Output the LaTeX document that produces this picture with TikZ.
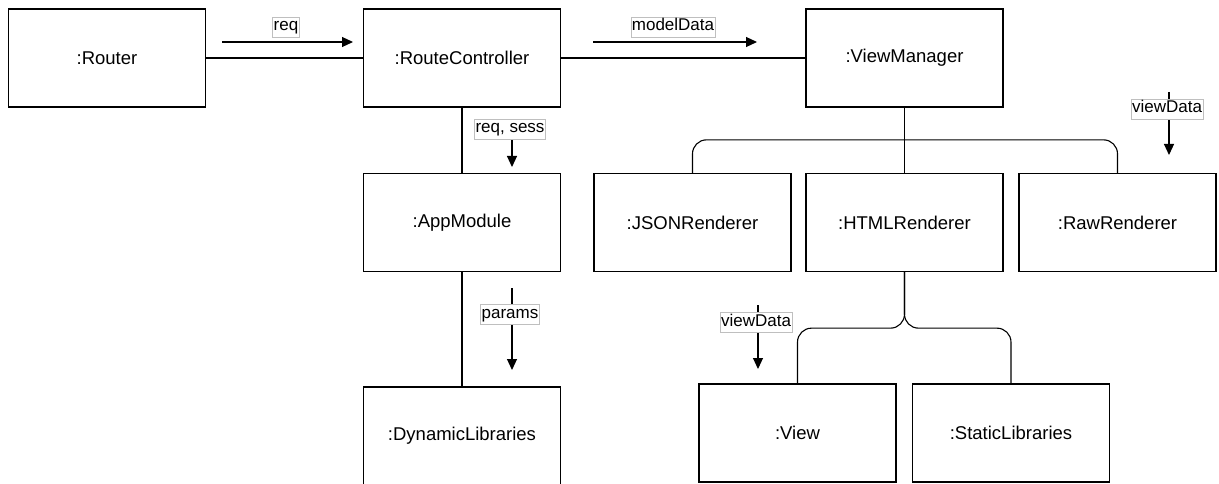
\documentclass[tikz,border=0pt]{standalone}
\usepackage{fontspec}
\setmainfont{Liberation Sans}
\usetikzlibrary{arrows.meta,calc}
\begin{document}
\begin{tikzpicture}[x=1pt,y=-1pt,
  obj/.style={draw,line width=1.3pt,minimum width=197pt,minimum height=98pt,inner sep=0pt,font=\fontsize{18.5}{22}\selectfont},
  lbl/.style={draw=black!25,line width=0.6pt,fill=white,inner xsep=1pt,inner ysep=2.5pt,text height=11.5pt,text depth=3.5pt,font=\fontsize{17}{20}\selectfont},
  conn/.style={line width=1.1pt},
  bus/.style={line width=1.1pt,rounded corners=14pt},
  msg/.style={line width=1.1pt,-{Triangle[length=11pt,width=10pt]}}]
\useasboundingbox (0,0) rectangle (1219,484);
\fill[white] (0,0) rectangle (1219,484);
% objects
\node[obj] (router) at (107,58) {:Router};
\node[obj] (rc) at (462,58) {:RouteController};
\node[obj] (vm) at (904.5,58) {:ViewManager};
\node[obj] (app) at (462,222.5) {:AppModule};
\node[obj] (dyn) at (462,436) {:DynamicLibraries};
\node[obj] (json) at (692.5,222.5) {:JSONRenderer};
\node[obj] (html) at (904.5,222.5) {:HTMLRenderer};
\node[obj] (raw) at (1117.5,222.5) {:RawRenderer};
\node[obj] (view) at (797.5,433) {:View};
\node[obj] (static) at (1011,433) {:StaticLibraries};
% connectors
\draw[conn] (router) -- (rc);
\draw[conn] (rc) -- (vm);
\draw[conn] (rc) -- (app);
\draw[conn] (app) -- (dyn);
\draw[conn] (vm) -- (html);
\coordinate (busR) at ($(raw.north)+(0,-33)$);
\draw[bus] (json.north) |- (busR) -- (raw.north);
\coordinate (busL) at ($(html.south)+(0,56)$);
\draw[bus] (html.south) -- (busL) -| (view.north);
\draw[bus] (html.south) -- (busL) -| (static.north);
% messages
\coordinate (m1s) at (222,42); \coordinate (m1e) at (353,42);
\draw[msg] (m1s) -- (m1e);
\node[lbl] (l1) at (286,27) {req};
\coordinate (m2s) at (593,42); \coordinate (m2e) at (757,42);
\draw[msg] (m2s) -- (m2e);
\node[lbl] (l2) at (673,27) {modelData};
\coordinate (m3s) at (512,139); \coordinate (m3e) at (512,167);
\draw[msg] (m3s) -- (m3e);
\node[lbl] (l3) at (510,129) {req, sess};
\coordinate (m4s) at (512,288); \coordinate (m4e) at (512,370);
\draw[msg] (m4s) -- (m4e);
\node[lbl] (l4) at (510,314) {params};
\coordinate (m5s) at (1169,92); \coordinate (m5e) at (1169,155);
\draw[msg] (m5s) -- (m5e);
\node[lbl] (l5) at (1167,109) {viewData};
\coordinate (m6s) at (758,305); \coordinate (m6e) at (758,369);
\draw[msg] (m6s) -- (m6e);
\node[lbl] (l6) at (756,322) {viewData};
\end{tikzpicture}
\end{document}
